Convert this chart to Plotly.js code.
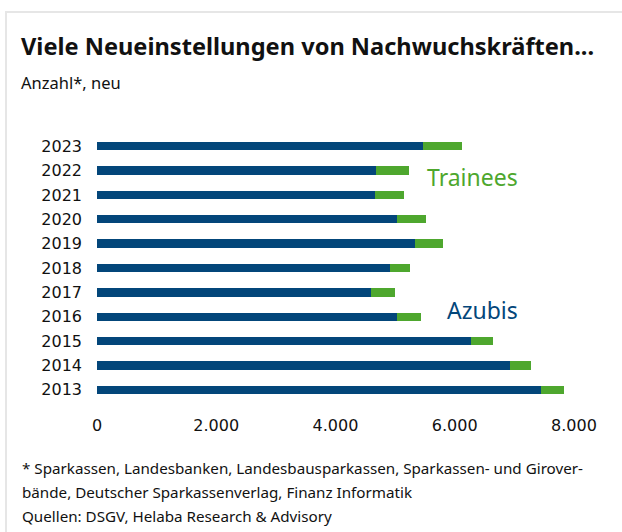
<!DOCTYPE html>
<html>
<head>
<meta charset="utf-8">
<script src="https://cdn.plot.ly/plotly-3.0.1.min.js"></script>
<style>
  html, body { margin: 0; padding: 0; background: #ffffff; }
  #wrap { position: relative; width: 622px; height: 532px; overflow: hidden; }
  #card { position: absolute; left: 5px; top: 11px; width: 640px; height: 540px;
          border-top: 2px solid #e6e6e6; border-left: 2px solid #e6e6e6; }
  #chart { position: absolute; left: 0; top: 0; width: 622px; height: 532px; }
</style>
</head>
<body>
<div id="wrap">
  <div id="card"></div>
  <div id="chart"></div>
</div>
<script>
const years = ["2013","2014","2015","2016","2017","2018","2019","2020","2021","2022","2023"];
const azubis = [7445, 6924, 6270, 5028, 4592, 4911, 5330, 5028, 4659, 4676, 5465];
const trainees = [386, 353, 369, 403, 403, 336, 470, 487, 487, 554, 654];
const xTickVals = [0, 2000, 4000, 6000, 8000];
const xTickText = ["0", "2.000", "4.000", "6.000", "8.000"];

const navy = "#03467a";
const green = "#4ea72e";
const txtFont = "Noto Sans, sans-serif";

const data = [
  { type: "bar", orientation: "h", y: years, x: azubis, name: "Azubis",
    marker: { color: navy }, hoverinfo: "x+y" },
  { type: "bar", orientation: "h", y: years, x: trainees, name: "Trainees",
    marker: { color: green }, hoverinfo: "x+y" }
];

const layout = {
  width: 622, height: 532,
  margin: { l: 97, r: 48, t: 134, b: 130 },
  paper_bgcolor: "rgba(0,0,0,0)",
  plot_bgcolor: "rgba(0,0,0,0)",
  barmode: "stack",
  bargap: 0.66,
  showlegend: false,
  title: {
    text: "<b>Viele Neueinstellungen von Nachwuchskräften...</b>",
    font: { family: txtFont, size: 23.6, color: "#111111" },
    xref: "container", yref: "container",
    x: 21/622, xanchor: "left",
    y: 1 - 47/532, yanchor: "middle"
  },
  xaxis: {
    range: [0, 8000], tickvals: xTickVals, ticktext: xTickText,
    showgrid: false, zeroline: false, showline: false, ticks: "",
    ticklabelstandoff: 12,
    tickfont: { family: "DejaVu Sans, sans-serif", size: 16, color: "#111111" },
    fixedrange: true
  },
  yaxis: {
    type: "category", categoryorder: "array", categoryarray: years,
    range: [-0.5, 10.5],
    showgrid: false, zeroline: false, showline: false, ticks: "",
    ticklabelstandoff: 14,
    tickfont: { family: "DejaVu Sans, sans-serif", size: 16, color: "#111111" },
    fixedrange: true
  },
  annotations: [
    { text: "Anzahl*, neu", xref: "paper", yref: "paper",
      x: (19 - 97) / 477, y: (402 - 82) / 268, xanchor: "left", yanchor: "middle",
      showarrow: false, font: { family: txtFont, size: 16.5, color: "#111111" } },
    { text: "Trainees", xref: "paper", yref: "paper",
      x: (520 - 97) / 477, y: (402 - 177) / 268, xanchor: "right", yanchor: "middle",
      showarrow: false, font: { family: txtFont, size: 23, color: green } },
    { text: "Azubis", xref: "paper", yref: "paper",
      x: (520 - 97) / 477, y: (402 - 310) / 268, xanchor: "right", yanchor: "middle",
      showarrow: false, font: { family: txtFont, size: 23, color: navy } },
    { text: "* Sparkassen, Landesbanken, Landesbausparkassen, Sparkassen- und Girover-",
      xref: "paper", yref: "paper",
      x: (20 - 97) / 477, y: (402 - 468) / 268, xanchor: "left", yanchor: "middle",
      showarrow: false, font: { family: txtFont, size: 15.2, color: "#111111" } },
    { text: "bände, Deutscher Sparkassenverlag, Finanz Informatik",
      xref: "paper", yref: "paper",
      x: (20 - 97) / 477, y: (402 - 492) / 268, xanchor: "left", yanchor: "middle",
      showarrow: false, font: { family: txtFont, size: 15.2, color: "#111111" } },
    { text: "Quellen: DSGV, Helaba Research & Advisory",
      xref: "paper", yref: "paper",
      x: (20 - 97) / 477, y: (402 - 516) / 268, xanchor: "left", yanchor: "middle",
      showarrow: false, font: { family: txtFont, size: 15.2, color: "#111111" } }
  ]
};

Plotly.newPlot("chart", data, layout, { displayModeBar: false, staticPlot: true });
</script>
</body>
</html>
